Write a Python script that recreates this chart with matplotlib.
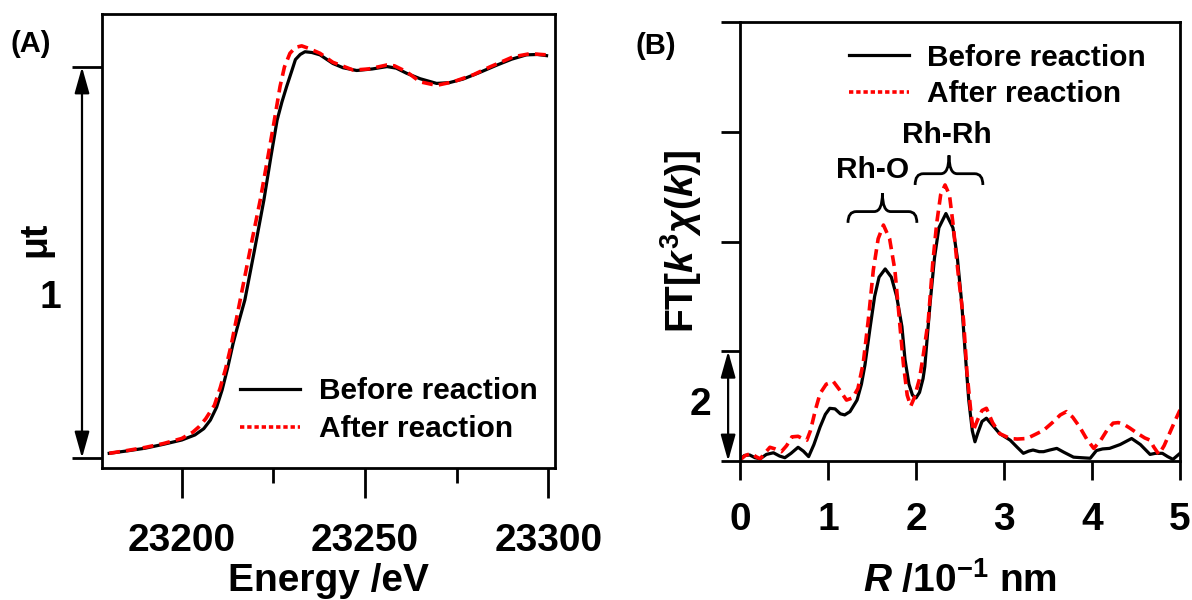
import matplotlib
matplotlib.use('Agg')
import matplotlib.pyplot as plt
from matplotlib.lines import Line2D
from matplotlib.path import Path
from matplotlib.patches import PathPatch
import matplotlib.transforms as mtransforms

# (A) XANES, Rh K-edge
energy_before = [23180.2, 23185, 23190, 23195, 23200, 23203.6, 23206, 23207.8, 23209.5, 23211,
                 23212.5, 23214, 23215.6, 23217.2, 23219.8, 23222.4, 23224.3, 23226, 23227.3,
                 23228.6, 23230, 23231, 23232.3, 23233.6, 23235.5, 23237.7, 23241.2, 23244,
                 23247.7, 23252, 23256, 23258.5, 23261.3, 23265, 23269.5, 23273, 23276.7, 23281,
                 23286, 23290, 23294, 23297, 23299.5]
mut_before = [0.012, 0.018, 0.025, 0.035, 0.046, 0.059, 0.075, 0.097, 0.13, 0.174,
              0.23, 0.293, 0.35, 0.404, 0.53, 0.660, 0.77, 0.864, 0.91,
              0.950, 0.99, 1.019, 1.032, 1.039, 1.037, 1.031, 1.009, 0.998,
              0.991, 0.995, 1.001, 0.997, 0.984, 0.970, 0.958, 0.960, 0.969, 0.985,
              1.005, 1.020, 1.031, 1.032, 1.029]

energy_after = [23180.2, 23185, 23190, 23195, 23200, 23203, 23204.7, 23206.5, 23208.9, 23210.5,
                23212, 23213.5, 23215, 23216.2, 23218.8, 23221.4, 23223.3, 23225, 23226.8,
                23228, 23229.5, 23231, 23232.7, 23234.5, 23237.7, 23241.2, 23246.8, 23251,
                23255.9, 23258, 23261.3, 23265, 23269.5, 23274, 23279.5, 23284, 23290.4,
                23295, 23299.5]
mut_after = [0.012, 0.019, 0.027, 0.037, 0.05, 0.066, 0.08, 0.10, 0.135, 0.18,
             0.23, 0.29, 0.36, 0.417, 0.54, 0.66, 0.76, 0.85, 0.950,
             1.0, 1.035, 1.05, 1.054, 1.048, 1.035, 1.012, 0.992, 0.995,
             1.005, 1.003, 0.988, 0.962, 0.953, 0.962, 0.980, 1.000, 1.026,
             1.034, 1.031]

# (B) Fourier transform of k3-weighted EXAFS
r_before = [0.00, 0.05, 0.11, 0.17, 0.23, 0.30, 0.38, 0.45, 0.51, 0.58, 0.66, 0.72, 0.78, 0.84,
            0.91, 0.97, 1.02, 1.08, 1.14, 1.19, 1.25, 1.33, 1.38, 1.42, 1.48, 1.53, 1.58, 1.65,
            1.72, 1.78, 1.84, 1.875, 1.92, 1.96, 2.00, 2.04, 2.08, 2.10, 2.16, 2.21, 2.26, 2.34,
            2.42, 2.47, 2.52, 2.56, 2.60, 2.64, 2.67, 2.70, 2.75, 2.80, 2.87, 2.95, 3.00, 3.07,
            3.15, 3.22, 3.28, 3.33, 3.40, 3.45, 3.52, 3.60, 3.68, 3.79, 3.88, 3.98, 4.05, 4.12,
            4.20, 4.32, 4.45, 4.55, 4.66, 4.72, 4.80, 4.86, 4.92, 5.00]
ft_before = [0.03, 0.10, 0.11, 0.06, 0.04, 0.12, 0.15, 0.09, 0.06, 0.14, 0.25, 0.18, 0.08, 0.30,
             0.62, 0.85, 0.96, 0.95, 0.86, 0.84, 0.90, 1.11, 1.40, 1.75, 2.45, 3.00, 3.35, 3.50,
             3.35, 3.00, 2.45, 1.85, 1.40, 1.20, 1.15, 1.25, 1.50, 1.72, 2.87, 3.70, 4.25, 4.51,
             4.25, 3.70, 2.87, 1.95, 1.10, 0.55, 0.35, 0.50, 0.72, 0.78, 0.65, 0.50, 0.45, 0.38,
             0.25, 0.14, 0.18, 0.20, 0.17, 0.17, 0.20, 0.23, 0.16, 0.07, 0.06, 0.05, 0.19, 0.22,
             0.23, 0.30, 0.41, 0.30, 0.12, 0.14, 0.14, 0.08, 0.03, 0.14]

r_after = [0.00, 0.06, 0.13, 0.18, 0.23, 0.28, 0.34, 0.40, 0.47, 0.53, 0.59, 0.66, 0.72, 0.76,
           0.80, 0.86, 0.91, 0.98, 1.06, 1.13, 1.21, 1.28, 1.34, 1.40, 1.46, 1.515, 1.57, 1.63,
           1.70, 1.76, 1.81, 1.856, 1.90, 1.94, 1.98, 2.04, 2.08, 2.14, 2.19, 2.235, 2.28, 2.33,
           2.38, 2.42, 2.48, 2.54, 2.58, 2.62, 2.65, 2.70, 2.75, 2.80, 2.87, 2.95, 3.07, 3.15,
           3.26, 3.35, 3.45, 3.55, 3.64, 3.71, 3.78, 3.86, 3.94, 4.02, 4.10, 4.17, 4.24, 4.30,
           4.37, 4.43, 4.52, 4.60, 4.66, 4.70, 4.76, 4.82, 4.88, 4.94, 5.00]
ft_after = [0.02, 0.10, 0.14, 0.08, 0.04, 0.14, 0.25, 0.22, 0.17, 0.28, 0.44, 0.45, 0.40, 0.38,
            0.55, 0.95, 1.23, 1.40, 1.45, 1.30, 1.11, 1.15, 1.32, 1.78, 2.60, 3.48, 4.05, 4.30,
            4.05, 3.48, 2.60, 1.78, 1.20, 1.00, 1.15, 1.50, 1.90, 2.57, 3.60, 4.33, 4.85, 5.03,
            4.85, 4.33, 3.40, 2.57, 1.60, 0.95, 0.55, 0.75, 0.92, 0.96, 0.70, 0.50, 0.41, 0.40,
            0.41, 0.48, 0.56, 0.70, 0.84, 0.90, 0.80, 0.62, 0.40, 0.23, 0.38, 0.56, 0.69, 0.70,
            0.66, 0.60, 0.50, 0.42, 0.38, 0.26, 0.12, 0.28, 0.50, 0.72, 0.93]

labels = ['Before reaction', 'After reaction']
shells = ['Rh-O', 'Rh-Rh']
brace_x = [(1.227, 2.01), (1.99, 2.76)]
brace_y = [(4.34, 4.88), (5.03, 5.57)]
shell_text_xy = [(1.51, 5.30), (2.35, 5.94)]

plt.rcParams['font.family'] = ['Liberation Sans', 'DejaVu Sans']
plt.rcParams['font.weight'] = 'bold'
plt.rcParams['mathtext.fontset'] = 'custom'
plt.rcParams['mathtext.rm'] = 'Liberation Sans:bold'
plt.rcParams['mathtext.it'] = 'Liberation Sans:italic:bold'
plt.rcParams['mathtext.bf'] = 'Liberation Sans:bold'
plt.rcParams['axes.linewidth'] = 2.0

RED = '#ff0000'
DASH = (3.0, 1.7)
LW_B = 2.3
LW_R = 2.6

fig = plt.figure(figsize=(11.92, 6), dpi=100)
axA = fig.add_axes([101.5 / 1192, 132 / 600, 453.5 / 1192, 454 / 600])
axB = fig.add_axes([740 / 1192, 139 / 600, 440 / 1192, 439 / 600])


def draw_brace(ax, x0, x1, y_end, y_tip):
    xc = (x0 + x1) / 2
    ym = y_end + 0.38 * (y_tip - y_end)
    dx = 0.12 * (x1 - x0)
    verts = [(x0, y_end), (x0, ym), (x0 + dx, ym), (xc - dx, ym), (xc, ym), (xc, y_tip),
             (xc, ym), (xc + dx, ym), (x1 - dx, ym), (x1, ym), (x1, y_end)]
    codes = [Path.MOVETO, Path.CURVE3, Path.CURVE3, Path.LINETO, Path.CURVE3, Path.CURVE3,
             Path.CURVE3, Path.CURVE3, Path.LINETO, Path.CURVE3, Path.CURVE3]
    ax.add_patch(PathPatch(Path(verts, codes), facecolor='none', edgecolor='black', lw=2.0,
                           capstyle='butt'))


def double_arrow(ax, xpos, y0, y1):
    trans = mtransforms.blended_transform_factory(ax.transAxes, ax.transData)
    ax.annotate('', xy=(xpos, y1), xytext=(xpos, y0), xycoords=trans, textcoords=trans,
                annotation_clip=False,
                arrowprops=dict(arrowstyle='<|-|>,head_length=1.6,head_width=0.45',
                                mutation_scale=10, color='black', lw=1.6,
                                shrinkA=0, shrinkB=0))


# Panel A
axA.plot(energy_before, mut_before, color='black', lw=LW_B)
axA.plot(energy_after, mut_after, color=RED, lw=LW_R, dashes=DASH)
axA.set_xlim(23178.1, 23301.8)
axA.set_ylim(-0.0256, 1.1355)
axA.set_xticks([23200, 23250, 23300])
axA.set_xticks([23225, 23275], minor=True)
axA.set_yticks([0, 1])
axA.set_yticklabels([])
axA.tick_params(axis='x', which='major', direction='out', length=21.6, width=2.0,
                labelsize=28, pad=18)
axA.tick_params(axis='x', which='minor', direction='out', length=11, width=2.0)
axA.tick_params(axis='y', direction='out', length=21.6, width=2.0)
axA.set_xlabel('Energy /eV', fontsize=28, fontweight='bold', labelpad=3)
double_arrow(axA, -0.043, 0, 1)
transA = mtransforms.blended_transform_factory(axA.transAxes, axA.transData)
axA.text(-0.112, 0.41, '1', transform=transA, fontsize=28, ha='center', va='center')
axA.text(-0.145, 0.558, 'μt', transform=transA, fontsize=27, ha='center', va='center',
         rotation=90)
handles = [Line2D([], [], color='black', lw=LW_B),
           Line2D([], [], color=RED, lw=LW_R, ls=(0, (1.2, 0.8)))]
axA.legend(handles, labels, loc='upper left', bbox_to_anchor=(0.305, 0.200), frameon=False,
           fontsize=21.5, handlelength=2.0, handletextpad=0.65, labelspacing=0.33,
           borderpad=0, borderaxespad=0)
fig.text(31 / 1192, 1 - 44 / 600, '(A)', fontsize=21, ha='center', va='center')

# Panel B
axB.plot(r_before, ft_before, color='black', lw=LW_B)
axB.plot(r_after, ft_after, color=RED, lw=LW_R, dashes=DASH)
axB.set_xlim(0, 5)
axB.set_ylim(0, 8)
axB.set_xticks([0, 1, 2, 3, 4, 5])
axB.set_yticks([0, 2, 4, 6, 8])
axB.set_yticklabels([])
axB.tick_params(axis='x', direction='out', length=13.7, width=2.0, labelsize=28, pad=15.5)
axB.tick_params(axis='y', direction='out', length=14, width=2.0)
axB.set_xlabel(r'$R$ /10$^{-1}$ nm', fontsize=28, fontweight='bold', labelpad=17)
double_arrow(axB, -0.027, 0, 2)
transB = mtransforms.blended_transform_factory(axB.transAxes, axB.transData)
axB.text(-0.091, 1.02, '2', transform=transB, fontsize=28, ha='center', va='center')
axB.text(-0.134, 0.50, r'FT[$k^{3}\chi(k)$]', transform=axB.transAxes, fontsize=28,
         ha='center', va='center', rotation=90)
for name, (bx0, bx1), (by0, by1), (tx, ty) in zip(shells, brace_x, brace_y, shell_text_xy):
    draw_brace(axB, bx0, bx1, by0, by1)
    axB.text(tx, ty, name, fontsize=21.5, ha='center', va='center')
axB.legend(handles, labels, loc='upper left', bbox_to_anchor=(0.248, 0.950), frameon=False,
           fontsize=21.5, handlelength=2.0, handletextpad=0.6, labelspacing=0.28,
           borderpad=0, borderaxespad=0)
fig.text(656 / 1192, 1 - 46 / 600, '(B)', fontsize=21, ha='center', va='center')

fig.savefig('out.png', dpi=100)
